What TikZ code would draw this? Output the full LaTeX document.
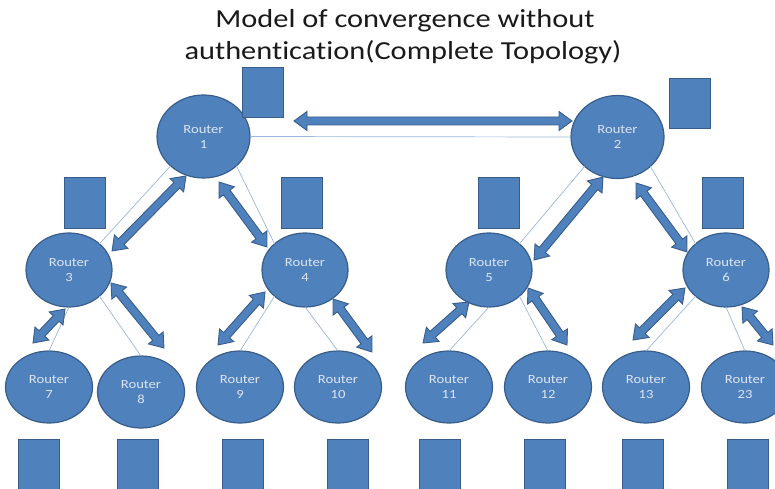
\documentclass[tikz,border=0pt]{standalone}
\usepackage{fontspec}
\setmainfont{Carlito}
\newfontfamily\titlefont[FakeStretch=1.17,Ligatures=NoCommon]{Carlito}
\newfontfamily\labelfont[FakeStretch=1.17,Ligatures=NoCommon]{Carlito}
\usetikzlibrary{shapes.geometric,calc}

\definecolor{nodefill}{HTML}{4F81BD}
\definecolor{nodeedge}{HTML}{385D8A}
\definecolor{linkline}{HTML}{9BB7DB}
\definecolor{labeltext}{HTML}{DCE5F1}
\definecolor{titletext}{HTML}{1A1A1A}

\tikzset{
  router/.style={ellipse, draw=nodeedge, fill=nodefill, line width=1.2pt,
    inner sep=0pt, outer sep=0pt, align=center, text=labeltext,
    font=\labelfont\fontsize{12.5}{15}\selectfont},
  bigrouter/.style={router, minimum width=93pt, minimum height=83pt},
  midrouter/.style={router, minimum width=86pt, minimum height=74pt},
  leafrouter/.style={router, minimum width=87pt, minimum height=72pt},
  host/.style={rectangle, draw=nodeedge, fill=nodefill, line width=0.8pt,
    inner sep=0pt, outer sep=0pt, minimum width=41pt, minimum height=50pt},
  lowhost/.style={host, minimum height=61pt},
  link/.style={draw=linkline, line width=0.7pt},
  flow/.style={draw=nodeedge, fill=nodefill, line width=0.9pt, line join=miter},
  heading/.style={anchor=base, text=titletext,
    font=\titlefont\fontsize{26}{32}\selectfont},
}

% Block double-headed arrow drawn from one named coordinate to another
\newcommand\twoway[2]{%
  \pgfpointdiff{\pgfpointanchor{#1}{center}}{\pgfpointanchor{#2}{center}}%
  \pgfgetlastxy{\arrdx}{\arrdy}%
  \pgfmathsetmacro\arrang{atan2(\arrdy,\arrdx)}%
  \pgfmathsetmacro\arrlen{veclen(\arrdx,\arrdy)}%
  \filldraw[flow, shift={(#1)}, rotate=\arrang]
    (0,0) -- (13,9.5) -- (13,4) -- ({\arrlen-13},4) -- ({\arrlen-13},9.5)
    -- (\arrlen,0) -- ({\arrlen-13},-9.5) -- ({\arrlen-13},-4)
    -- (13,-4) -- (13,-9.5) -- cycle;
}

\begin{document}
\begin{tikzpicture}[x=1pt, y=-1pt]
  \useasboundingbox (0,0) rectangle (775,489);
  \clip (0,0) rectangle (775,489);

  % title
  \node[heading] (title1) at (405,28) {Model of convergence without};
  \node[heading] (title2) at (403,60) {authentication(Complete Topology)};

  % routers
  \node[bigrouter] (r1) at (203.5,136.5) {Router\\1};
  \node[bigrouter] (r2) at (617.5,137)   {Router\\2};
  \node[midrouter] (r3) at (69,270)  {Router\\3};
  \node[midrouter] (r4) at (305,270) {Router\\4};
  \node[midrouter] (r5) at (489,270) {Router\\5};
  \node[midrouter] (r6) at (726,270) {Router\\6};
  \node[leafrouter] (r7)  at (49,387)  {Router\\7};
  \node[leafrouter] (r8)  at (141,392) {Router\\8};
  \node[leafrouter] (r9)  at (240,387) {Router\\9};
  \node[leafrouter] (r10) at (338,387) {Router\\10};
  \node[leafrouter] (r11) at (449,387) {Router\\11};
  \node[leafrouter] (r12) at (548,387) {Router\\12};
  \node[leafrouter] (r13) at (646,387) {Router\\13};
  \node[leafrouter] (r23) at (745,387) {Router\\23};

  % thin physical links between routers
  \path[link] (r1.east) -- (r2.west);
  \path[link] (r1.south west) -- (r3.north east);
  \path[link] (r1.south east) -- (r4.north west);
  \path[link] (r2.south west) -- (r5.north east);
  \path[link] (r2.south east) -- (r6.north west);
  \path[link] (r3.south) -- (r7.north);
  \path[link] (r3.south east) -- (r8.north);
  \path[link] (r4.south west) -- (r9.north);
  \path[link] (r4.south) -- (r10.north);
  \path[link] (r5.south) -- (r11.north);
  \path[link] (r5.south east) -- (r12.north);
  \path[link] (r6.south west) -- (r13.north);
  \path[link] (r6.south) -- (r23.north);

  % hosts attached to each router
  \node[host] (h1) at (262.5,92)  {};
  \node[host] (h2) at (689.5,103) {};
  \node[host, minimum height=51pt] (h3) at (85,202.5)    {};
  \node[host, minimum height=51pt] (h4) at (301.5,202.5) {};
  \node[host, minimum height=51pt] (h5) at (498.5,202.5) {};
  \node[host, minimum height=51pt] (h6) at (722.5,202.5) {};
  \node[lowhost] (h7)  at (38.5,469.5)  {};
  \node[lowhost] (h8)  at (137.5,469.5) {};
  \node[lowhost] (h9)  at (242.5,469.5) {};
  \node[lowhost] (h10) at (348,469.5)   {};
  \node[lowhost] (h11) at (439.5,469.5) {};
  \node[lowhost] (h12) at (544.5,469.5) {};
  \node[lowhost] (h13) at (643,469.5)   {};
  \node[lowhost] (h23) at (748,469.5)   {};

  % end points of the exchange arrows
  \coordinate (f12a) at (294,121);  \coordinate (f12b) at (572,121);
  \coordinate (f13a) at (186,176);  \coordinate (f13b) at (112,251);
  \coordinate (f14a) at (219,182);  \coordinate (f14b) at (267,247);
  \coordinate (f25a) at (603,177);  \coordinate (f25b) at (534,260);
  \coordinate (f26a) at (636,183);  \coordinate (f26b) at (687,252);
  \coordinate (f37a) at (65,309);   \coordinate (f37b) at (33,343);
  \coordinate (f38a) at (111,283);  \coordinate (f38b) at (164,348);
  \coordinate (f49a) at (265,292);  \coordinate (f49b) at (218,345);
  \coordinate (f410a) at (333,299); \coordinate (f410b) at (372,352);
  \coordinate (f511a) at (469,302); \coordinate (f511b) at (423,343);
  \coordinate (f512a) at (528,288); \coordinate (f512b) at (567,345);
  \coordinate (f613a) at (685,288); \coordinate (f613b) at (633,340);
  \coordinate (f623a) at (742,307); \coordinate (f623b) at (773,345);

  % exchange arrows
  \twoway{f12a}{f12b}
  \twoway{f13a}{f13b}
  \twoway{f14a}{f14b}
  \twoway{f25a}{f25b}
  \twoway{f26a}{f26b}
  \twoway{f37a}{f37b}
  \twoway{f38a}{f38b}
  \twoway{f49a}{f49b}
  \twoway{f410a}{f410b}
  \twoway{f511a}{f511b}
  \twoway{f512a}{f512b}
  \twoway{f613a}{f613b}
  \twoway{f623a}{f623b}
\end{tikzpicture}
\end{document}
